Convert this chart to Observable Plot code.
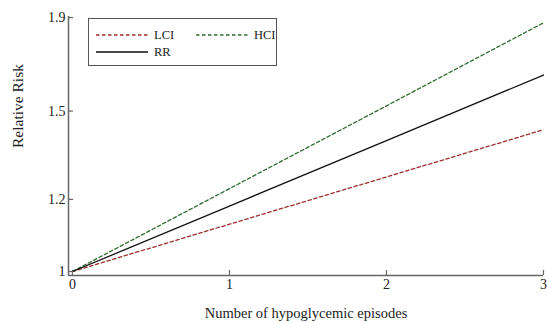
<!DOCTYPE html>
<html>
<head>
<meta charset="utf-8">
<script src="https://cdn.jsdelivr.net/npm/d3@7"></script>
<script src="https://cdn.jsdelivr.net/npm/@observablehq/plot@0.6"></script>
<style>
  html, body { margin: 0; padding: 0; background: #fff; }
  #wrap { position: relative; width: 547px; height: 323px; font-family: "Liberation Serif", "DejaVu Serif", serif; }
  #legend { position: absolute; left: 88px; top: 18px; width: 189px; height: 48px; border: 1px solid #555; background: #fff; box-sizing: border-box; }
</style>
</head>
<body>
<div id="wrap"></div>
<script>
// Data
const episodes = [0, 1, 2, 3];
const rr  = [1, 1.18, 1.392, 1.643];
const lci = [1, 1.127, 1.270, 1.431];
const hci = [1, 1.233, 1.520, 1.875];
const xTicks = [0, 1, 2, 3];
const yTicks = [1, 1.2, 1.5, 1.9];
const seriesNames = ["LCI", "HCI", "RR"];
const seriesColors = {LCI: "#9b2f2f", HCI: "#2f6b32", RR: "#111111"};
const seriesDash = {LCI: "3.5,2.5", HCI: "3.5,2.5", RR: null};

const xDomain = [-0.025, 3];
const yDomain = [0.99, 1.905];

const rows = [];
episodes.forEach((e, i) => {
  rows.push({x: e, y: lci[i], s: "LCI"});
  rows.push({x: e, y: hci[i], s: "HCI"});
  rows.push({x: e, y: rr[i], s: "RR"});
});

const W = 547, H = 323, mL = 68, mR = 4, mT = 16, mB = 48;
const innerW = W - mL - mR, innerH = H - mT - mB;
const axisColor = "#666";
const textColor = "#222";

const lineMarks = seriesNames.map(s => Plot.line(rows.filter(r => r.s === s), {
  x: "x", y: "y", stroke: seriesColors[s], strokeWidth: 1.3,
  strokeDasharray: seriesDash[s] || undefined
}));

const chart = Plot.plot({
  width: W, height: H,
  marginLeft: mL, marginRight: mR, marginTop: mT, marginBottom: mB,
  style: {fontFamily: "'Liberation Serif', 'DejaVu Serif', serif", fontSize: "14px", background: "#fff", color: textColor},
  x: {domain: xDomain},
  y: {type: "log", domain: yDomain},
  marks: [
    ...lineMarks,
    Plot.ruleX([xDomain[0]], {stroke: axisColor, strokeWidth: 1.5}),
    Plot.ruleY([yDomain[0]], {stroke: axisColor, strokeWidth: 1.5}),
    Plot.tickX(xTicks, {x: d => d, stroke: axisColor, strokeWidth: 1.2, insetTop: innerH - 5}),
    Plot.tickY(yTicks, {y: d => d, stroke: axisColor, strokeWidth: 1.2, insetRight: innerW - 5}),
    Plot.axisX(xTicks, {tickSize: 0, tickPadding: 4, label: null, tickFormat: d => String(d), fill: textColor, fontSize: 14}),
    Plot.axisY(yTicks, {tickSize: 0, tickPadding: 3, label: null, tickFormat: d => String(d), fill: textColor, fontSize: 14}),
    Plot.text(["Number of hypoglycemic episodes"], {frameAnchor: "bottom", dy: 38, lineAnchor: "middle", fill: textColor, fontSize: 14.5}),
    Plot.text(["Relative Risk"], {frameAnchor: "left", dx: -50, dy: 2, rotate: -90, lineAnchor: "middle", fill: textColor, fontSize: 15.5})
  ]
});

const wrap = document.getElementById("wrap");
wrap.appendChild(chart);

// Legend overlay
const legend = document.createElement("div");
legend.id = "legend";
const ns = "http://www.w3.org/2000/svg";
const lsvg = document.createElementNS(ns, "svg");
lsvg.setAttribute("width", 187);
lsvg.setAttribute("height", 46);
lsvg.style.display = "block";
const items = [
  {s: "LCI", x: 7, y: 16},
  {s: "HCI", x: 107, y: 16},
  {s: "RR", x: 7, y: 33}
];
items.forEach(it => {
  const ln = document.createElementNS(ns, "line");
  ln.setAttribute("x1", it.x); ln.setAttribute("x2", it.x + 52);
  ln.setAttribute("y1", it.y); ln.setAttribute("y2", it.y);
  ln.setAttribute("stroke", seriesColors[it.s]);
  ln.setAttribute("stroke-width", 1.3);
  if (seriesDash[it.s]) ln.setAttribute("stroke-dasharray", seriesDash[it.s]);
  lsvg.appendChild(ln);
  const tx = document.createElementNS(ns, "text");
  tx.setAttribute("x", it.x + 58);
  tx.setAttribute("y", it.y);
  tx.setAttribute("dy", "0.35em");
  tx.setAttribute("fill", textColor);
  tx.setAttribute("font-size", "12.5");
  tx.setAttribute("font-family", "'Liberation Serif', serif");
  tx.textContent = it.s;
  lsvg.appendChild(tx);
});
legend.appendChild(lsvg);
wrap.appendChild(legend);
</script>
</body>
</html>
